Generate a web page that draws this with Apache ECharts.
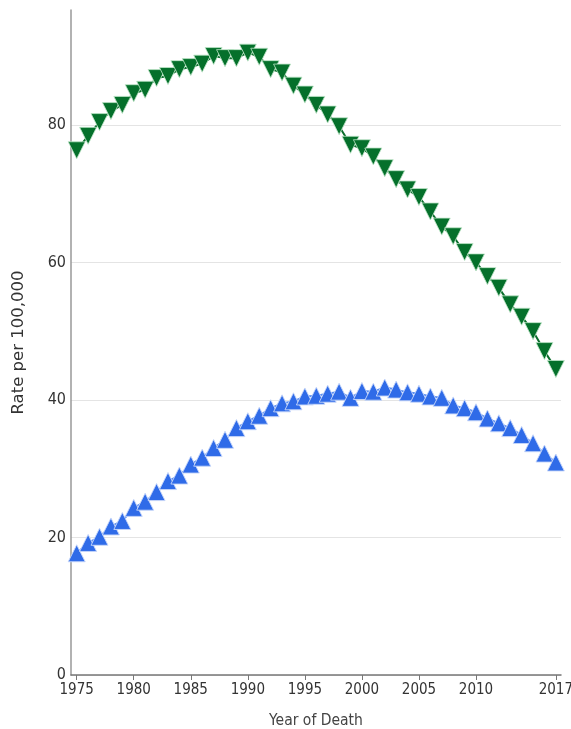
<!DOCTYPE html>
<html>
<head>
<meta charset="utf-8">
<script src="https://cdn.jsdelivr.net/npm/echarts@6/dist/echarts.min.js"></script>
<style>
html,body{margin:0;padding:0;background:#fff;overflow:hidden;width:100%;height:100%;}
#chart{width:571px;height:729px;}
</style>
</head>
<body>
<div id="chart"></div>
<script>
const years = [1975,1976,1977,1978,1979,1980,1981,1982,1983,1984,1985,1986,1987,1988,1989,1990,1991,1992,1993,1994,1995,1996,1997,1998,1999,2000,2001,2002,2003,2004,2005,2006,2007,2008,2009,2010,2011,2012,2013,2014,2015,2016,2017];
const greenRates = [76.3,78.4,80.4,82.0,82.9,84.6,85.1,86.8,87.1,88.1,88.4,88.9,90.0,89.7,89.7,90.5,89.9,88.1,87.6,85.7,84.4,82.9,81.5,79.8,77.1,76.6,75.4,73.7,72.1,70.6,69.5,67.4,65.2,63.8,61.5,60.0,58.0,56.3,53.9,52.1,50.0,47.1,44.5];
const blueRates = [17.7,19.2,20.1,21.6,22.4,24.3,25.2,26.6,28.2,29.0,30.6,31.6,33.0,34.2,35.9,36.9,37.7,38.8,39.5,39.8,40.5,40.6,40.9,41.2,40.3,41.3,41.2,41.8,41.5,41.1,40.9,40.5,40.3,39.2,38.8,38.2,37.3,36.6,35.9,34.9,33.7,32.2,30.9];
const xTickLabels = [1975,1980,1985,1990,1995,2000,2005,2010,2017];
const yTicks = [0,20,40,60,80];

const narrow = '"Liberation Sans Narrow", "DejaVu Sans Condensed", "Liberation Sans", sans-serif';
const el = document.getElementById('chart');
const chart = echarts.init(el, null, {renderer:'canvas'});
const pair = arr => years.map((y,i)=>[y, arr[i]]);
chart.setOption({
  animation:false,
  backgroundColor:'#fff',
  grid:{left:71,right:10,top:10,bottom:54,containLabel:false,outerBoundsMode:'none'},
  xAxis:{
    type:'value', min:1974.5, max:2017.45,
    name:'Year of Death', nameLocation:'middle', nameGap:38,
    nameTextStyle:{fontFamily:narrow,fontSize:15.5,color:'#444'},
    axisLine:{lineStyle:{color:'#777',width:1.5}},
    axisTick:{show:true,length:5,lineStyle:{color:'#777'},customValues:xTickLabels},
    axisLabel:{customValues:xTickLabels,fontFamily:narrow,fontSize:15,color:'#333',margin:8,formatter:v=>String(v)},
    splitLine:{show:false}
  },
  yAxis:{
    type:'value', min:0, max:96.7, interval:20,
    name:'Rate per 100,000', nameLocation:'middle', nameGap:44,
    nameTextStyle:{fontFamily:'"DejaVu Sans", sans-serif',fontSize:16.5,color:'#333'},
    axisLine:{show:true,lineStyle:{color:'#999',width:1.5}},
    axisTick:{show:false},
    axisLabel:{fontFamily:narrow,fontSize:16,color:'#333',margin:5,showMaxLabel:false,
      formatter:v=> yTicks.includes(v)? String(v):''},
    splitLine:{show:true,lineStyle:{color:['#e4e4e4','#e4e4e4','#e4e4e4','#e4e4e4','#e4e4e4','rgba(0,0,0,0)'],width:1}}
  },
  series:[
    {type:'line',data:pair(greenRates),symbol:'triangle',symbolRotate:180,symbolSize:[17,17],
     lineStyle:{color:'#0b6e2c',width:2},itemStyle:{color:'#05702b',borderColor:'rgba(190,230,200,0.8)',borderWidth:1}},
    {type:'line',data:pair(blueRates),symbol:'triangle',symbolSize:[17,17],
     lineStyle:{color:'#5b8ef0',width:2},itemStyle:{color:'#2f6be8',borderColor:'rgba(200,215,250,0.9)',borderWidth:1}}
  ]
});
</script>
</body>
</html>
